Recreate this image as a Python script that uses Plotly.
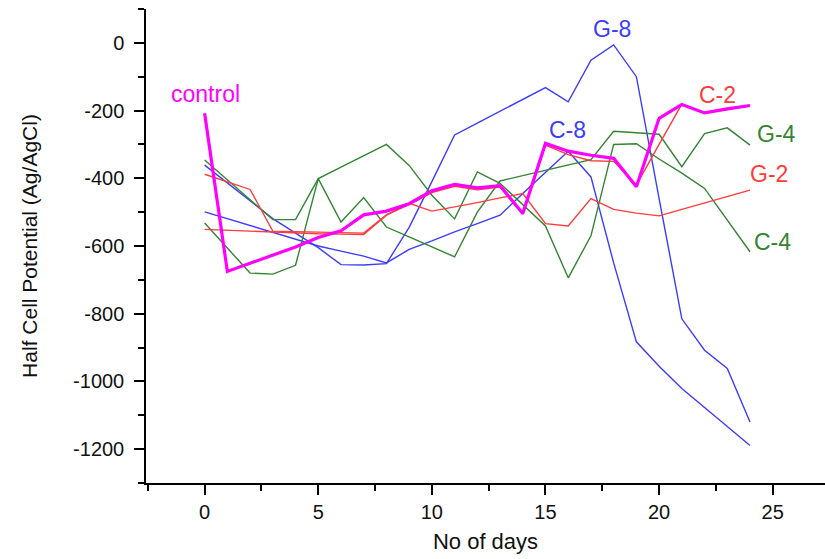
import plotly.graph_objects as go

# Half cell potential readings (mV vs Ag/AgCl) over 24 days
days = list(range(25))

control = [-208, -675, -651, -627, -603, -575, -555, -508, -497, -475, -437, -418, -428,
           -422, -504, -297, -320, -332, -341, -425, -223, -182, -207, -195, -185]
c2 = [-388, -410, -433, -556, -557, -558, -560, -562, -508, -478, -442, -424, -434,
      -426, -506, -302, -330, -348, -350, -420, -300, -181, -208, -196, -186]
g2 = [-551, -554, -557, -560, -562, -564, -565, -566, -509, -474, -497, -485, -472,
      -458, -445, -534, -541, -460, -492, -503, -511, -492, -473, -454, -435]
g8 = [-361, -414, -467, -519, -562, -605, -655, -656, -652, -545, -410, -272, -237,
      -202, -167, -132, -174, -51, -6, -100, -460, -815, -908, -962, -1120]
c8 = [-499, -519, -539, -559, -579, -600, -615, -630, -650, -610, -585, -558, -534,
      -509, -445, -381, -320, -396, -650, -883, -955, -1021, -1077, -1133, -1189]
c4 = [-346, -405, -464, -522, -522, -401, -367, -333, -300, -362, -450, -520, -381,
      -415, -478, -541, -694, -570, -300, -298, -343, -385, -430, -523, -617]
g4 = [-532, -605, -680, -683, -657, -401, -529, -457, -544, -573, -603, -632, -500,
      -408, -392, -377, -361, -345, -261, -265, -270, -366, -268, -251, -302]

# axis tick positions and their labels (plain hyphen as the minus sign)
y_tick_vals = [0, -200, -400, -600, -800, -1000, -1200]
y_tick_text = ["0", "-200", "-400", "-600", "-800", "-1000", "-1200"]
x_tick_vals = [0, 5, 10, 15, 20, 25]
x_tick_text = ["0", "5", "10", "15", "20", "25"]

BLUE = "#3c3cff"
RED = "#ff3c3c"
GREEN = "#338433"
MAGENTA = "#ff00ff"

series = [
    ("G-8", g8, BLUE, 1.4),
    ("C-8", c8, BLUE, 1.4),
    ("G-4", g4, GREEN, 1.4),
    ("C-4", c4, GREEN, 1.4),
    ("G-2", g2, RED, 1.4),
    ("C-2", c2, RED, 1.4),
    ("control", control, MAGENTA, 3.2),
]

# series labels: (text, x, y, colour)
labels = [
    ("control", -1.55, -150, MAGENTA),
    ("G-8", 17.0, 40, BLUE),
    ("C-8", 15.05, -258, BLUE),
    ("C-2", 21.65, -155, RED),
    ("G-4", 24.2, -270, GREEN),
    ("G-2", 23.9, -388, RED),
    ("C-4", 24.1, -587, GREEN),
]

FONT = "Liberation Sans, Arial, sans-serif"

fig = go.Figure()
for name, vals, color, width in series:
    fig.add_trace(go.Scatter(
        x=days, y=vals, name=name, mode="lines",
        line=dict(color=color, width=width),
        showlegend=False,
    ))

for text, x, y, color in labels:
    fig.add_annotation(
        x=x, y=y, text=text, showarrow=False,
        xanchor="left", yanchor="middle",
        font=dict(family=FONT, size=23, color=color),
    )

fig.update_layout(
    width=825, height=559,
    margin=dict(l=146, r=0, t=9, b=76),
    plot_bgcolor="white", paper_bgcolor="white",
    font=dict(family=FONT, color="#111111"),
)

fig.update_xaxes(
    range=[-2.58, 27.3],
    showline=True, linecolor="black", linewidth=1.5,
    showgrid=False, zeroline=False,
    ticks="outside", tickcolor="black", ticklen=10, tickwidth=1.5,
    tickmode="array", tickvals=x_tick_vals, ticktext=x_tick_text,
    minor=dict(ticks="outside", dtick=2.5, tick0=0, ticklen=6,
               tickcolor="black", tickwidth=1.5),
    tickfont=dict(family=FONT, size=20),
    ticklabelstandoff=0,
    title=dict(text="No of days", font=dict(family=FONT, size=22), standoff=12),
)

fig.update_yaxes(
    range=[-1300, 100],
    showline=True, linecolor="black", linewidth=1.5,
    showgrid=False, zeroline=False,
    ticks="outside", tickcolor="black", ticklen=10, tickwidth=1.5,
    tickmode="array", tickvals=y_tick_vals, ticktext=y_tick_text,
    minor=dict(ticks="outside", dtick=100, tick0=0, ticklen=6,
               tickcolor="black", tickwidth=1.5),
    tickfont=dict(family=FONT, size=20),
    ticklabelstandoff=6,
    title=dict(text="Half Cell Potential (Ag/AgCl)",
               font=dict(family=FONT, size=21), standoff=30),
)

fig.write_html("out.html")
